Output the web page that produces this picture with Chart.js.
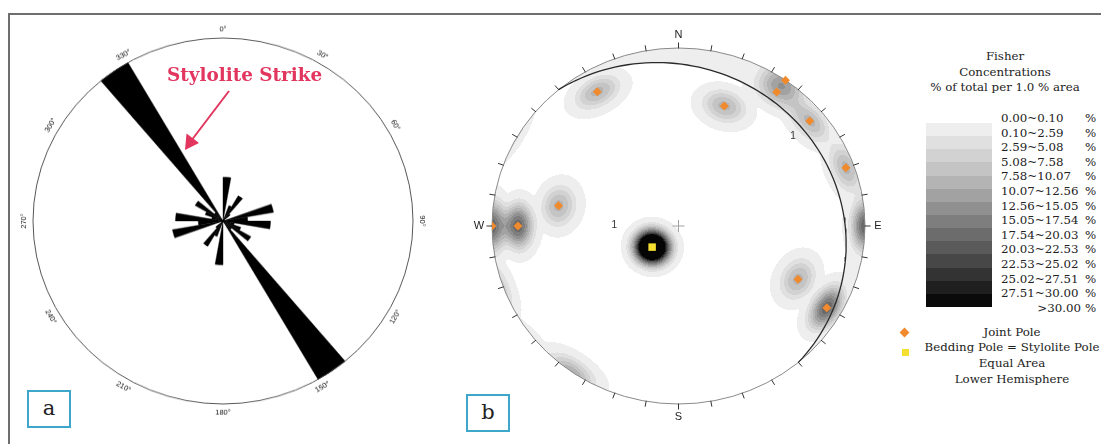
<!DOCTYPE html>
<html><head><meta charset="utf-8">
<script src="https://cdn.jsdelivr.net/npm/chart.js@4.4.0/dist/chart.umd.min.js"></script>
<style>
html,body{margin:0;padding:0;background:#fff;width:1101px;height:444px;overflow:hidden;}
body{position:relative;font-family:"DejaVu Serif",serif;color:#222;}
#frame{position:absolute;left:8px;top:13px;width:1200px;height:500px;border-top:2px solid #6e6e6e;border-left:2px solid #6e6e6e;}
#rose{position:absolute;left:13.3px;top:11.2px;transform:scaleY(0.963);transform-origin:210px 210px;}
#net{position:absolute;left:462px;top:18px;}
.box{position:absolute;width:44px;height:38px;border:2px solid #3ea5cb;box-sizing:border-box;text-align:center;font-size:21px;line-height:32px;color:#222;background:#fff;}
#strikeLabel{position:absolute;left:167px;top:64px;font-weight:bold;font-size:18.4px;color:#e2365f;white-space:nowrap;}
#arrow{position:absolute;left:0;top:0;}
.leg{position:absolute;font-size:11.8px;white-space:nowrap;}
#legTitle{left:905px;top:49px;width:200px;text-align:center;line-height:15.5px;}
.sw{position:absolute;left:926px;width:66px;}
.mk{position:absolute;}
</style></head>
<body>
<div id="frame"></div>
<canvas id="rose" width="420" height="420"></canvas>
<canvas id="net" width="433" height="416"></canvas>
<svg id="arrow" width="400" height="200">
  <line x1="229" y1="91" x2="191" y2="141" stroke="#e2365f" stroke-width="2"/>
  <polygon points="185,150 186.5,133.5 199,143" fill="#e2365f"/>
</svg>
<div id="strikeLabel">Stylolite Strike</div>
<div class="box" style="left:27px;top:390px;">a</div>
<div class="box" style="left:466px;top:394px;">b</div>
<div id="legend"></div>
<script>
// ---------------- DATA ----------------
// Rose diagram (a): strike frequency in 10° bins (relative, longest bin = 100)
const roseBinStart = [0,10,20,30,40,50,60,70,80,90,100,110,120,130,140,150,160,170,
                      180,190,200,210,220,230,240,250,260,270,280,290,300,310,320,330,340,350];
const roseFrequency = [24,0,9,16,5,0,0,27,13,25,6,10,17,6,100,0,0,0,
                       24,0,9,16,5,0,0,27,13,25,6,10,17,6,100,0,0,0];
const roseTickAngles = [0,30,60,90,120,150,180,210,240,270,300,330];
const roseTickLabels = ['0°','30°','60°','90°','120°','150°','180°','210°','240°','270°','300°','330°'];

// Stereonet (b): poles (trend / plunge in degrees, lower hemisphere)
const jointTrend  = [330, 20, 35, 35, 50, 70, 270, 270, 280, 115, 120];
const jointPlunge = [ 14, 29,  0,  9,  9,  5,   0,  15,  35,  30,   9];
const jointCount  = [  1,  1,  1,  1,  1,  1,   2,   2,   1,   1,   2];
const beddingTrend  = [230];
const beddingPlunge = [75];
const beddingCount  = [5];

// Concentration classes (% of total per 1.0 % area)
const classLabels = ['0.00~0.10','0.10~2.59','2.59~5.08','5.08~7.58','7.58~10.07','10.07~12.56',
  '12.56~15.05','15.05~17.54','17.54~20.03','20.03~22.53','22.53~25.02','25.02~27.51','27.51~30.00','>30.00'];
const classLimits = [0.10,2.59,5.08,7.58,10.07,12.56,15.05,17.54,20.03,22.53,25.02,27.51,30.00];
const swatchColors = ['#eeeeee','#e0e0e0','#d2d2d2','#c4c4c4','#b4b4b4','#a2a2a2','#909090',
  '#7e7e7e','#6c6c6c','#5a5a5a','#474747','#333333','#1f1f1f','#0a0a0a'];
const netBandColors = ['#ffffff','#eeeeee','#e0e0e0','#d2d2d2','#c4c4c4','#b4b4b4','#a2a2a2',
  '#909090','#7e7e7e','#6a6a6a','#555555','#3c3c3c','#202020','#050505'];
const countingRadiusDeg = 15.5;   // smoothing cone half-angle
const kernelPower = 4;
const peakPerPole = 11;           // % per 1% area for a single pole

// contour labels "1" (net coordinates, primitive radius = 1)
const contourLabelX = [-0.344, 0.614];
const contourLabelY = [ 0.007, 0.502];
const compassLabels = ['N','E','S','W'];

// ---------------- helpers ----------------
const DEG = Math.PI/180;
function toVec(trend, plunge){
  const t = trend*DEG, p = plunge*DEG;
  return [Math.cos(p)*Math.cos(t), Math.cos(p)*Math.sin(t), Math.sin(p)];
}
function project(v){
  let n=v[0], e=v[1], d=v[2];
  if (d<0){n=-n;e=-e;d=-d;}
  const th = Math.acos(Math.min(1,d));
  const r = Math.SQRT2*Math.sin(th/2);
  const h = Math.hypot(n,e);
  if (h<1e-12) return {x:0,y:0};
  return {x:r*e/h, y:r*n/h};
}

// ---------------- ROSE (polar area) ----------------
const rosePlugin = {
  id:'roseDecor',
  afterDraw(chart){
    const s = chart.scales.r, ctx = chart.ctx;
    const cx = s.xCenter, cy = s.yCenter, R = s.drawingArea;
    ctx.save();
    ctx.beginPath(); ctx.arc(cx,cy,R,0,2*Math.PI);
    ctx.strokeStyle='#444'; ctx.lineWidth=0.9; ctx.stroke();
    ctx.fillStyle='#111'; ctx.font='7.5px "Liberation Sans", Arial, sans-serif';
    ctx.textAlign='center'; ctx.textBaseline='middle';
    roseTickAngles.forEach((a,i)=>{
      const x = cx + (R+9)*Math.sin(a*DEG), y = cy - (R+9)*Math.cos(a*DEG);
      let rot = (a>90 && a<270) ? a-180 : (a>=270 ? a-360 : a);
      ctx.save(); ctx.translate(x,y); ctx.rotate(rot*DEG);
      ctx.fillText(roseTickLabels[i],0,0); ctx.restore();
    });
    ctx.restore();
  }
};
new Chart(document.getElementById('rose'), {
  type:'polarArea',
  data:{labels: roseBinStart.map(a=>a+'°'),
        datasets:[{data: roseFrequency, backgroundColor:'#000', borderColor:'#000', borderWidth:0.4}]},
  options:{responsive:false, animation:false, layout:{padding:20},
    plugins:{legend:{display:false}, tooltip:{enabled:false}},
    scales:{r:{min:0,max:100,startAngle:0,
      ticks:{display:false}, grid:{display:false}, angleLines:{display:false}, pointLabels:{display:false}}}},
  plugins:[rosePlugin]
});

// ---------------- STEREONET ----------------
const jointVecs = jointTrend.map((t,i)=>toVec(t, jointPlunge[i]));
const beddingVecs = beddingTrend.map((t,i)=>toVec(t, beddingPlunge[i]));
const allVecs = jointVecs.concat(beddingVecs);
const allCounts = jointCount.concat(beddingCount);

// great circle of bedding (= stylolite) plane
const gc = [];
{
  const bt = beddingTrend[0], bp = beddingPlunge[0];
  const sv = toVec(bt+90, 0), dv = toVec(bt+180, 90-bp);
  for (let t=0; t<=180; t+=2){
    const c=Math.cos(t*DEG), s=Math.sin(t*DEG);
    gc.push(project([c*sv[0]+s*dv[0], c*sv[1]+s*dv[1], c*sv[2]+s*dv[2]]));
  }
}

function hexRGB(h){return [parseInt(h.substr(1,2),16),parseInt(h.substr(3,2),16),parseInt(h.substr(5,2),16)];}
const bandRGB = netBandColors.map(hexRGB);
const capDen = 1-Math.cos(countingRadiusDeg*DEG);

const netPlugin = {
  id:'netDecor',
  beforeDatasetsDraw(chart){
    const xs = chart.scales.x, ys = chart.scales.y, ctx = chart.ctx;
    const x0 = Math.floor(xs.getPixelForValue(-1)), x1 = Math.ceil(xs.getPixelForValue(1));
    const y0 = Math.floor(ys.getPixelForValue(1)), y1 = Math.ceil(ys.getPixelForValue(-1));
    if (!chart.$density){
      const W = x1-x0, H = y1-y0;
      const off = document.createElement('canvas'); off.width=W; off.height=H;
      const octx = off.getContext('2d'); const img = octx.createImageData(W,H);
      const b = beddingVecs[0];
      for (let py=0; py<H; py++){
        const y = ys.getValueForPixel(y0+py+0.5);
        for (let px=0; px<W; px++){
          const x = xs.getValueForPixel(x0+px+0.5);
          const r2 = x*x+y*y; if (r2>1.0) continue;
          const r = Math.sqrt(r2);
          const th = 2*Math.asin(Math.min(1, r/Math.SQRT2));
          const st = Math.sin(th), ct = Math.cos(th);
          let n=0,e=0; if (r>1e-9){ n = st*y/r; e = st*x/r; }
          const d = ct;
          let dens = 0;
          for (let i=0;i<allVecs.length;i++){
            const p = allVecs[i];
            const dot = Math.abs(n*p[0]+e*p[1]+d*p[2]);
            const s = 1-(1-dot)/capDen;
            if (s>0) dens += allCounts[i]*Math.pow(s,kernelPower);
          }
          dens *= peakPerPole;
          let k=0; while (k<classLimits.length && dens>=classLimits[k]) k++;
          if (k===0 && (n*b[0]+e*b[1]+d*b[2])<0) k=1;
          const c = bandRGB[k], o=(py*W+px)*4;
          img.data[o]=c[0]; img.data[o+1]=c[1]; img.data[o+2]=c[2]; img.data[o+3]=255;
        }
      }
      octx.putImageData(img,0,0);
      chart.$density = off;
    }
    ctx.save();
    ctx.drawImage(chart.$density, x0, y0);
    const cx = xs.getPixelForValue(0), cy = ys.getPixelForValue(0);
    const rx = xs.getPixelForValue(1)-cx, ry = cy-ys.getPixelForValue(1);
    // primitive
    ctx.beginPath(); ctx.ellipse(cx,cy,rx,ry,0,0,2*Math.PI);
    ctx.strokeStyle='#8a8a8a'; ctx.lineWidth=1; ctx.stroke();
    // ticks every 10 degrees
    ctx.strokeStyle='#333'; ctx.lineWidth=1;
    for (let a=0; a<360; a+=10){
      const sx=Math.sin(a*DEG), sy=Math.cos(a*DEG);
      const px1 = xs.getPixelForValue(sx), py1 = ys.getPixelForValue(sy);
      const len = 5.5;
      const nx = sx*rx, ny = -sy*ry; const nl = Math.hypot(nx,ny);
      ctx.beginPath(); ctx.moveTo(px1-0.5*nx/nl, py1-0.5*ny/nl); ctx.lineTo(px1+len*nx/nl, py1+len*ny/nl); ctx.stroke();
    }
    // centre cross
    ctx.strokeStyle='#9a9a9a'; ctx.lineWidth=0.9;
    ctx.beginPath(); ctx.moveTo(cx-6,cy); ctx.lineTo(cx+6,cy); ctx.moveTo(cx,cy-6); ctx.lineTo(cx,cy+6); ctx.stroke();
    // compass labels
    ctx.fillStyle='#222'; ctx.font='11px "Liberation Sans", Arial, sans-serif';
    ctx.textAlign='center'; ctx.textBaseline='middle';
    compassLabels.forEach((l,i)=>{
      const a = i*90, sx=Math.sin(a*DEG), sy=Math.cos(a*DEG);
      const px1 = xs.getPixelForValue(sx)+sx*13, py1 = ys.getPixelForValue(sy)-sy*13;
      ctx.fillText(l, px1, py1);
    });
    // contour labels
    ctx.fillStyle='#333'; ctx.font='10px "Liberation Sans", Arial, sans-serif';
    contourLabelX.forEach((vx,i)=>ctx.fillText('1', xs.getPixelForValue(vx), ys.getPixelForValue(contourLabelY[i])));
    ctx.restore();
  }
};

new Chart(document.getElementById('net'), {
  type:'scatter',
  data:{datasets:[
    {label:'Bedding plane', data: gc, showLine:true, pointRadius:0, borderColor:'#2a2a2a', borderWidth:1.3, order:2},
    {label:'Joint Pole', data: jointVecs.map(project), pointStyle:'rectRot', pointRadius:4.5,
     backgroundColor:'#f08a2c', borderWidth:0, order:1},
    {label:'Bedding Pole = Stylolite Pole', data: beddingVecs.map(project), pointStyle:'rect', pointRadius:5.3,
     backgroundColor:'#f5df30', borderWidth:0, order:0}
  ]},
  options:{responsive:false, animation:false,
    layout:{padding:{left:30,right:30,top:30,bottom:30}},
    plugins:{legend:{display:false}, tooltip:{enabled:false}},
    scales:{x:{type:'linear',min:-1,max:1,display:false}, y:{type:'linear',min:-1,max:1,display:false}}},
  plugins:[netPlugin]
});

// ---------------- LEGEND ----------------
const leg = document.getElementById('legend');
let html = '<div class="leg" id="legTitle">Fisher<br>Concentrations<br>% of total per 1.0 % area</div>';
const cellH = 184/swatchColors.length;
swatchColors.forEach((c,i)=>{ html += `<div class="sw" style="top:${123+i*cellH}px;height:${cellH+0.3}px;background:${c}"></div>`; });
classLabels.forEach((l,i)=>{
  const top = 119 + i*14.6 - 8;
  if (l.charAt(0)==='>') html += `<div class="leg" style="left:1001px;width:80px;text-align:right;top:${top}px">${l}</div>`;
  else html += `<div class="leg" style="left:1001px;top:${top}px">${l}</div>`;
  html += `<div class="leg" style="left:1085px;top:${top}px">%</div>`;
});
html += '<div class="mk" style="left:901px;top:329px;width:7px;height:7px;background:#f08a2c;transform:rotate(45deg)"></div>';
html += '<div class="mk" style="left:901.5px;top:348.5px;width:7px;height:7px;background:#f5df30"></div>';
[['Joint Pole',333],['Bedding Pole = Stylolite Pole',348],['Equal Area',364],['Lower Hemisphere',380]].forEach(([t,y])=>{
  html += `<div class="leg" style="left:912px;width:200px;text-align:center;top:${y-8}px">${t}</div>`;
});
leg.innerHTML = html;
</script>
</body></html>
